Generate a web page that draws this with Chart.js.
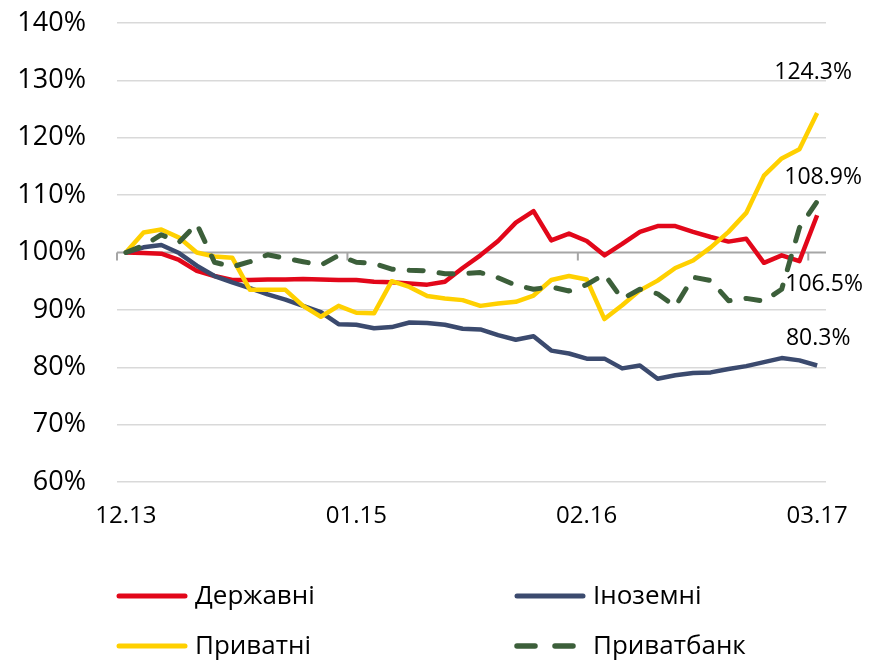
<!DOCTYPE html>
<html lang="uk">
<head>
<meta charset="utf-8">
<title>Кредити за групами банків</title>
<script src="https://cdn.jsdelivr.net/npm/chart.js@4.4.1/dist/chart.umd.min.js"></script>
<style>
  html, body { margin: 0; padding: 0; background: #fff; }
  #wrap { position: relative; width: 869px; height: 663px; }
</style>
</head>
<body>
<div id="wrap"><canvas id="banksChart"></canvas></div>
<script>
// місяці 12.13 ... 03.17
const months = [
  '12.13',
  '01.14', '02.14', '03.14', '04.14', '05.14', '06.14', '07.14', '08.14', '09.14', '10.14', '11.14', '12.14',
  '01.15', '02.15', '03.15', '04.15', '05.15', '06.15', '07.15', '08.15', '09.15', '10.15', '11.15', '12.15',
  '01.16', '02.16', '03.16', '04.16', '05.16', '06.16', '07.16', '08.16', '09.16', '10.16', '11.16', '12.16',
  '01.17', '02.17', '03.17'
];

// значення, % до 12.13
const derzhavni = [100.0, 99.9, 99.8, 98.7, 96.8, 95.9, 95.2, 95.2, 95.3, 95.3,
  95.4, 95.3, 95.2, 95.2, 94.9, 94.8, 94.6, 94.4, 94.9, 97.3,
  99.5, 102.0, 105.2, 107.2, 102.1, 103.3, 102.0, 99.5, 101.5, 103.6,
  104.6, 104.6, 103.6, 102.7, 101.9, 102.4, 98.2, 99.5, 98.5, 106.5];

const inozemni = [100.0, 100.9, 101.3, 99.9, 97.7, 95.9, 94.8, 93.8, 92.7, 91.8,
  90.7, 89.6, 87.5, 87.4, 86.8, 87.0, 87.8, 87.7, 87.4, 86.7,
  86.6, 85.6, 84.8, 85.4, 82.9, 82.4, 81.5, 81.5, 79.8, 80.3,
  78.0, 78.6, 79.0, 79.1, 79.7, 80.2, 80.9, 81.6, 81.2, 80.3];

const pryvatni = [100.0, 103.5, 104.0, 102.6, 100.0, 99.3, 99.1, 93.5, 93.5, 93.5,
  90.7, 88.8, 90.7, 89.5, 89.4, 95.0, 94.0, 92.4, 92.0, 91.7,
  90.7, 91.1, 91.4, 92.5, 95.2, 95.9, 95.3, 88.4, 90.8, 93.4,
  95.1, 97.3, 98.6, 100.9, 103.6, 106.9, 113.4, 116.4, 118.0, 124.3];

const pryvatbank = [100.0, 101.2, 103.1, 101.8, 105.0, 98.3, 97.5, 98.4, 99.6, 99.0,
  98.4, 97.8, 99.5, 98.3, 98.1, 97.1, 96.9, 96.8, 96.3, 96.3,
  96.5, 95.6, 94.3, 93.6, 94.0, 93.3, 94.4, 96.2, 91.9, 93.6,
  92.8, 90.6, 95.7, 95.1, 91.6, 92.0, 91.5, 93.6, 104.3, 108.9];

const FONT = '"Open Sans", "Noto Sans", sans-serif';
const LABEL_EVERY = 13;

// вісь на рівні 100% з рисками між категоріями
const axisAt100 = {
  id: 'axisAt100',
  beforeDatasetsDraw(chart) {
    const { ctx, chartArea, scales: { x, y } } = chart;
    const y0 = y.getPixelForValue(100);
    const half = (x.getPixelForValue(1) - x.getPixelForValue(0)) / 2;
    ctx.save();
    ctx.strokeStyle = '#A6A6A6';
    ctx.lineWidth = 2;
    ctx.beginPath();
    ctx.moveTo(chartArea.left, y0);
    ctx.lineTo(chartArea.right, y0);
    for (let i = 0; i < months.length; i += LABEL_EVERY) {
      const px = x.getPixelForValue(i) - half;
      ctx.moveTo(px, y0);
      ctx.lineTo(px, y0 + 8);
    }
    ctx.stroke();
    ctx.restore();
  }
};

// підписи останніх значень
const endLabels = {
  id: 'endLabels',
  afterDatasetsDraw(chart) {
    const { ctx } = chart;
    ctx.save();
    ctx.font = '23px ' + FONT;
    ctx.fillStyle = '#000';
    ctx.textAlign = 'center';
    ctx.textBaseline = 'middle';
    chart.data.datasets.forEach((ds, i) => {
      const meta = chart.getDatasetMeta(i);
      const pt = meta.data[meta.data.length - 1];
      const v = ds.data[ds.data.length - 1];
      ctx.fillText(v.toFixed(1) + '%', pt.x + ds.endLabel.dx, pt.y + ds.endLabel.dy);
    });
    ctx.restore();
  }
};

// легенда у дві колонки під графіком
const legendGrid = {
  id: 'legendGrid',
  afterDraw(chart) {
    const { ctx } = chart;
    const cols = [117, 515];
    const rows = [596, 646];
    ctx.save();
    ctx.font = '26px ' + FONT;
    ctx.fillStyle = '#000';
    ctx.textBaseline = 'middle';
    chart.data.datasets.forEach((ds, i) => {
      const lx = cols[i % 2];
      const ly = rows[Math.floor(i / 2)];
      ctx.strokeStyle = ds.borderColor;
      ctx.lineWidth = ds.borderWidth + 0.5;
      ctx.lineCap = 'round';
      ctx.setLineDash(ds.borderDash ? [18, 20] : []);
      ctx.beginPath();
      ctx.moveTo(lx + 2, ly);
      ctx.lineTo(lx + 68, ly);
      ctx.stroke();
      ctx.setLineDash([]);
      ctx.fillText(ds.label, lx + 78, ly + 1);
    });
    ctx.restore();
  }
};

const ctx = document.getElementById('banksChart').getContext('2d');

const banksChart = new Chart(ctx, {
  type: 'line',
  data: {
    labels: months,
    datasets: [
      {
        label: 'Державні',
        data: derzhavni,
        borderColor: '#E2071A',
        borderWidth: 4.5,
        order: 4,
        endLabel: { dx: 7, dy: 69 }
      },
      {
        label: 'Іноземні',
        data: inozemni,
        borderColor: '#3B4A6E',
        borderWidth: 4.5,
        order: 3,
        endLabel: { dx: 1, dy: -27 }
      },
      {
        label: 'Приватні',
        data: pryvatni,
        borderColor: '#FFD000',
        borderWidth: 4.5,
        order: 2,
        endLabel: { dx: -4, dy: -41 }
      },
      {
        label: 'Приватбанк',
        data: pryvatbank,
        borderColor: '#3C5F3A',
        borderWidth: 5,
        borderDash: [14, 16],
        borderCapStyle: 'round',
        order: 1,
        endLabel: { dx: 6, dy: -24 }
      }
    ]
  },
  options: {
    responsive: true,
    maintainAspectRatio: false,
    animation: false,
    layout: { padding: { top: 23, right: 43, bottom: 131, left: 0 } },
    elements: {
      point: { radius: 0, hoverRadius: 0 },
      line: { tension: 0, borderJoinStyle: 'round', fill: false }
    },
    scales: {
      x: {
        offset: true,
        grid: { display: false, drawTicks: false },
        border: { display: false },
        afterFit: (scale) => { scale.height = 50; },
        ticks: {
          autoSkip: false,
          maxRotation: 0,
          padding: 20,
          color: '#000',
          font: { family: FONT, size: 24 },
          callback: (val, i) => (i % LABEL_EVERY === 0 ? months[i] : '')
        }
      },
      y: {
        min: 60,
        max: 140,
        // фіксована ширина осі; тиковий відступ не повинен зсувати верх
        afterFit: (scale) => {
          scale.width = 117;
          scale.paddingTop = 16;
          scale.paddingBottom = 16;
        },
        grid: {
          drawTicks: false,
          lineWidth: 1.5,
          color: (c) => (c.tick && c.tick.value === 100 ? 'rgba(0,0,0,0)' : '#D9D9D9')
        },
        border: { display: false },
        ticks: {
          stepSize: 10,
          padding: 31,
          color: '#000',
          font: { family: FONT, size: 27 },
          callback: (v) => v + '%'
        }
      }
    },
    plugins: {
      legend: { display: false },
      tooltip: { enabled: false }
    }
  },
  plugins: [axisAt100, endLabels, legendGrid]
});
console.log('banksChart готовий');
</script>
</body>
</html>
